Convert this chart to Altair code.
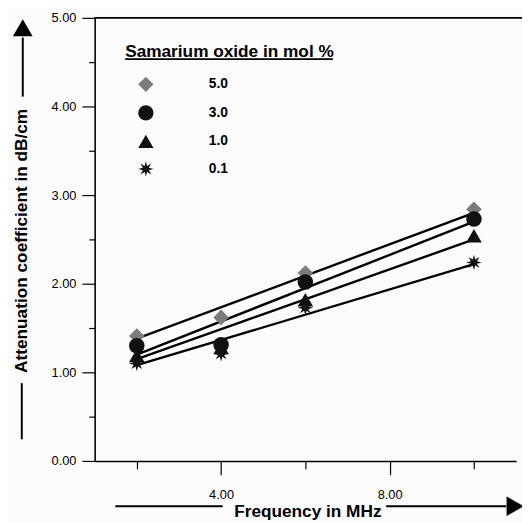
import math
import altair as alt
import pandas as pd

# ---------------- data ----------------
freq = [2, 4, 6, 10]
oxide = ["5.0", "3.0", "1.0", "0.1"]
atten_50 = [1.41, 1.62, 2.12, 2.84]
atten_30 = [1.30, 1.31, 2.02, 2.73]
atten_10 = [1.19, 1.28, 1.82, 2.54]
atten_01 = [1.10, 1.21, 1.73, 2.24]

fit_freq = [2, 10]
fit_50 = [1.38, 2.80]
fit_30 = [1.20, 2.70]
fit_10 = [1.15, 2.50]
fit_01 = [1.08, 2.22]

y_ticks = [0, 0.5, 1, 1.5, 2, 2.5, 3, 3.5, 4, 4.5, 5]
x_ticks = [2, 4, 6, 8, 10]

# ---------------- tables ----------------
pts = pd.DataFrame({
    "freq": freq * 4,
    "atten": atten_50 + atten_30 + atten_10 + atten_01,
    "oxide": [o for o in oxide for _ in freq],
})
fits = pd.DataFrame({
    "freq": fit_freq * 4,
    "atten": fit_50 + fit_30 + fit_10 + fit_01,
    "oxide": [o for o in oxide for _ in fit_freq],
})
one = pd.DataFrame({"k": [0]})

# ---------------- style ----------------
FONT = "Liberation Sans"
W, H = 428, 450

star = []
for k in range(16):
    a = k * math.pi / 8 - math.pi / 2
    r = 1.0 if k % 2 == 0 else 0.42
    star.append(f"{r*math.cos(a):.3f},{r*math.sin(a):.3f}")
star_path = "M" + "L".join(star) + "Z"

shapes = ["diamond", "circle", "triangle-up", star_path]
fills = ["#7c7c7c", "#111111", "#111111", "#111111"]

x_scale = alt.Scale(domain=[1, 11], nice=False, zero=False)
y_scale = alt.Scale(domain=[0, 5], nice=False, zero=True)

x_axis = alt.Axis(
    values=x_ticks,
    labelExpr="datum.value % 4 === 0 ? format(datum.value, '.2f') : ''",
    tickSize={"condition": {"test": "datum.value % 4 === 0", "value": 14}, "value": 8},
    labelPadding=14, labelFont=FONT, labelFontSize=13, labelColor="black",
    labelFlush=False, labelOverlap=False,
    domainColor="black", domainWidth=1.6, tickColor="black", tickWidth=1.2,
    grid=False,
    title="Frequency in MHz", titleFont=FONT, titleFontSize=17.5, titleFontWeight="bold",
    titleColor="black", titleX=216, titleY=51, titleAlign="center", titleBaseline="middle",
)
y_axis = alt.Axis(
    values=y_ticks,
    labelExpr="datum.value % 1 === 0 ? format(datum.value, '.2f') : ''",
    tickSize={"condition": {"test": "datum.value % 1 === 0", "value": 13}, "value": 6},
    labelPadding=6, labelFont=FONT, labelFontSize=13, labelColor="black",
    labelFlush=False, labelOverlap=False,
    domainColor="black", domainWidth=1.6, tickColor="black", tickWidth=1.2,
    grid=False,
    title="Attenuation coefficient in dB/cm", titleFont=FONT, titleFontSize=17.5,
    titleFontWeight="bold", titleColor="black", titleAngle=270,
    titleX=-74, titleY=226, titleAlign="center", titleBaseline="middle",
)

legend = alt.Legend(
    title="Samarium oxide in mol %", orient="none", legendX=31, legendY=26,
    titleFont=FONT, titleFontSize=17.5, titleFontWeight="bold", titleColor="black",
    titlePadding=16, titleLimit=400,
    labelFont=FONT, labelFontSize=14, labelFontWeight="bold", labelColor="black",
    labelOffset=56, symbolOffset=13, symbolSize=240, rowPadding=13,
    symbolStrokeWidth=0,
)

lines = alt.Chart(fits).mark_line(color="black", strokeWidth=2.4).encode(
    x=alt.X("freq:Q", scale=x_scale, axis=x_axis),
    y=alt.Y("atten:Q", scale=y_scale, axis=y_axis),
    detail="oxide:N",
)

points = alt.Chart(pts).mark_point(filled=True, size=250, opacity=1).encode(
    x=alt.X("freq:Q", scale=x_scale, axis=x_axis),
    y=alt.Y("atten:Q", scale=y_scale, axis=y_axis),
    color=alt.Color("oxide:N", scale=alt.Scale(domain=oxide, range=fills), legend=legend),
    shape=alt.Shape("oxide:N", scale=alt.Scale(domain=oxide, range=shapes), legend=legend),
)

def rule(x, y, x2=None, y2=None, w=2.0):
    enc = dict(x=alt.value(x), y=alt.value(y))
    if x2 is not None:
        enc["x2"] = alt.value(x2)
    if y2 is not None:
        enc["y2"] = alt.value(y2)
    return alt.Chart(one).mark_rule(color="black", strokeWidth=w).encode(**enc)

def head(x, y, shape, size):
    return alt.Chart(one).mark_point(filled=True, color="black", size=size, shape=shape, opacity=1).encode(
        x=alt.value(x), y=alt.value(y)
    )

decor = [
    rule(0, 0, x2=W + 6, w=1.6),           # top frame line
    rule(31, 42, x2=242, w=1.8),           # legend title underline
    rule(-73, 20, y2=80, w=2.0),           # y arrow shaft (upper)
    rule(-74, 371, y2=428, w=2.0),         # y arrow shaft (lower)
    rule(21, 496, x2=130, w=2.0),          # x arrow shaft (left)
    rule(296, 496, x2=418, w=2.0),         # x arrow shaft (right)
    head(-73, 10, "triangle-up", 400),
    head(427, 496, "triangle-right", 400),
]

chart = alt.layer(lines, points, *decor).properties(
    width=W, height=H,
    padding={"left": 88, "top": 6, "right": 6, "bottom": 58},
    autosize=alt.AutoSizeParams(type="none"),
    background="#fbfbfb",
).configure_view(stroke=None)

chart.save("out.html", embed_options={"renderer": "svg", "actions": False})
